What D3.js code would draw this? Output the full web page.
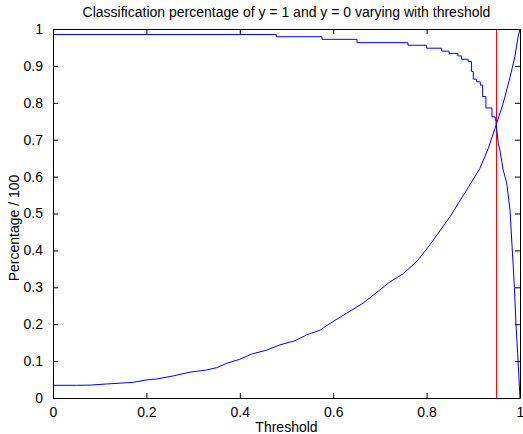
<!DOCTYPE html>
<meta charset="utf-8">
<style>
  body { margin: 0; background: #fff; }
  text { font-family: "Liberation Sans", Arial, sans-serif; fill: #000; }
</style>
<body>
<script src="https://cdnjs.cloudflare.com/ajax/libs/d3/7.8.5/d3.min.js"></script>
<script>
// curve for y = 1 (rises towards threshold 1)
var riseT = [0, 0.05, 0.08, 0.115, 0.172, 0.2, 0.222, 0.258, 0.293, 0.329, 0.35, 0.372, 0.4, 0.4255, 0.458, 0.486, 0.518, 0.543, 0.572, 0.593, 0.629, 0.664, 0.686, 0.722, 0.75, 0.779, 0.807, 0.85, 0.886, 0.914, 0.932, 0.95, 0.964, 0.979, 0.989, 0.996, 1.0];
var riseV = [0.0344, 0.0344, 0.035, 0.038, 0.0425, 0.049, 0.0515, 0.06, 0.07, 0.076, 0.082, 0.094, 0.105, 0.119, 0.13, 0.144, 0.155, 0.171, 0.184, 0.202, 0.23, 0.257, 0.279, 0.315, 0.337, 0.37, 0.415, 0.491, 0.564, 0.622, 0.676, 0.744, 0.799, 0.871, 0.925, 0.979, 1.0];

// curve for y = 0 : stepped part, then steep tail
var stepT = [0, 0.478, 0.576, 0.651, 0.76, 0.8, 0.832, 0.848, 0.867, 0.875, 0.889, 0.896, 0.9, 0.907, 0.915, 0.92, 0.927, 0.94, 0.947, 0.9486];
var stepV = [0.985, 0.979, 0.972, 0.963, 0.956, 0.948, 0.94, 0.934, 0.927, 0.918, 0.912, 0.885, 0.864, 0.857, 0.848, 0.817, 0.786, 0.762, 0.753, 0.745];
var tailT = [0.9486, 0.9535, 0.957, 0.964, 0.9715, 0.9786, 0.9835, 0.988, 0.9914, 0.995, 1.0];
var tailV = [0.745, 0.69, 0.672, 0.618, 0.583, 0.509, 0.401, 0.3, 0.2, 0.121, 0.0];

var threshold = 0.948;
var yTicks = [0, 0.1, 0.2, 0.3, 0.4, 0.5, 0.6, 0.7, 0.8, 0.9, 1];
var xTicks = [0, 0.2, 0.4, 0.6, 0.8, 1];

var width = 523, height = 434;
var mLeft = 53, mRight = 520, mTop = 29, mBottom = 398;

var x = d3.scaleLinear().domain([0, 1]).range([mLeft, mRight]);
var y = d3.scaleLinear().domain([0, 1]).range([mBottom, mTop]);
var fmt = d => d === 0 || d === 1 ? String(d) : d3.format(".1f")(d);

var svg = d3.select("body").append("svg")
    .attr("width", width)
    .attr("height", height);

function pairs(ts, vs) { return ts.map((t, i) => [t, vs[i]]); }

var line = d3.line().x(d => x(d[0])).y(d => y(d[1]));
var stepLine = d3.line().x(d => x(d[0])).y(d => y(d[1])).curve(d3.curveStepAfter);

// threshold marker
svg.append("line")
  .attr("x1", Math.round(x(threshold)) + 0.5).attr("x2", Math.round(x(threshold)) + 0.5)
  .attr("y1", y(0)).attr("y2", y(1))
  .attr("stroke", "#ff0000")
  .attr("stroke-width", 1);

svg.append("path")
  .attr("d", line(pairs(riseT, riseV)))
  .attr("fill", "none").attr("stroke", "#0000ff").attr("stroke-width", 1);

svg.append("path")
  .attr("d", stepLine(pairs(stepT, stepV)))
  .attr("fill", "none").attr("stroke", "#0000ff").attr("stroke-width", 1);

svg.append("path")
  .attr("d", line(pairs(tailT, tailV)))
  .attr("fill", "none").attr("stroke", "#0000ff").attr("stroke-width", 1);

// axes (ticks inside, on all four sides)
svg.append("g").attr("transform", `translate(0,${mBottom})`)
  .call(d3.axisBottom(x).tickValues(xTicks).tickSizeInner(-5).tickSizeOuter(0).tickPadding(9).tickFormat(fmt));
svg.append("g").attr("transform", `translate(0,${mTop})`)
  .call(d3.axisTop(x).tickValues(xTicks).tickSizeInner(-5).tickSizeOuter(0).tickFormat(""));
svg.append("g").attr("transform", `translate(${mLeft},0)`)
  .call(d3.axisLeft(y).tickValues(yTicks).tickSizeInner(-5).tickSizeOuter(0).tickPadding(10).tickFormat(fmt));
svg.append("g").attr("transform", `translate(${mRight},0)`)
  .call(d3.axisRight(y).tickValues(yTicks).tickSizeInner(-5).tickSizeOuter(0).tickFormat(""));

svg.selectAll(".tick text")
  .style("font-size", "14px")
  .style("font-family", '"Liberation Sans", Arial, sans-serif')
  .attr("fill", "#000");
svg.selectAll(".domain, .tick line").attr("stroke", "#000");

svg.append("text")
  .attr("x", (mLeft + mRight) / 2).attr("y", 17)
  .attr("text-anchor", "middle")
  .style("font-size", "14px")
  .text("Classification percentage of y = 1 and y = 0 varying with threshold");

svg.append("text")
  .attr("x", (mLeft + mRight) / 2).attr("y", 432)
  .attr("text-anchor", "middle")
  .style("font-size", "14px")
  .text("Threshold");

svg.append("text")
  .attr("transform", `translate(19,228) rotate(-90)`)
  .attr("text-anchor", "middle")
  .style("font-size", "14px")
  .text("Percentage / 100");
</script>
</body>
</html>
